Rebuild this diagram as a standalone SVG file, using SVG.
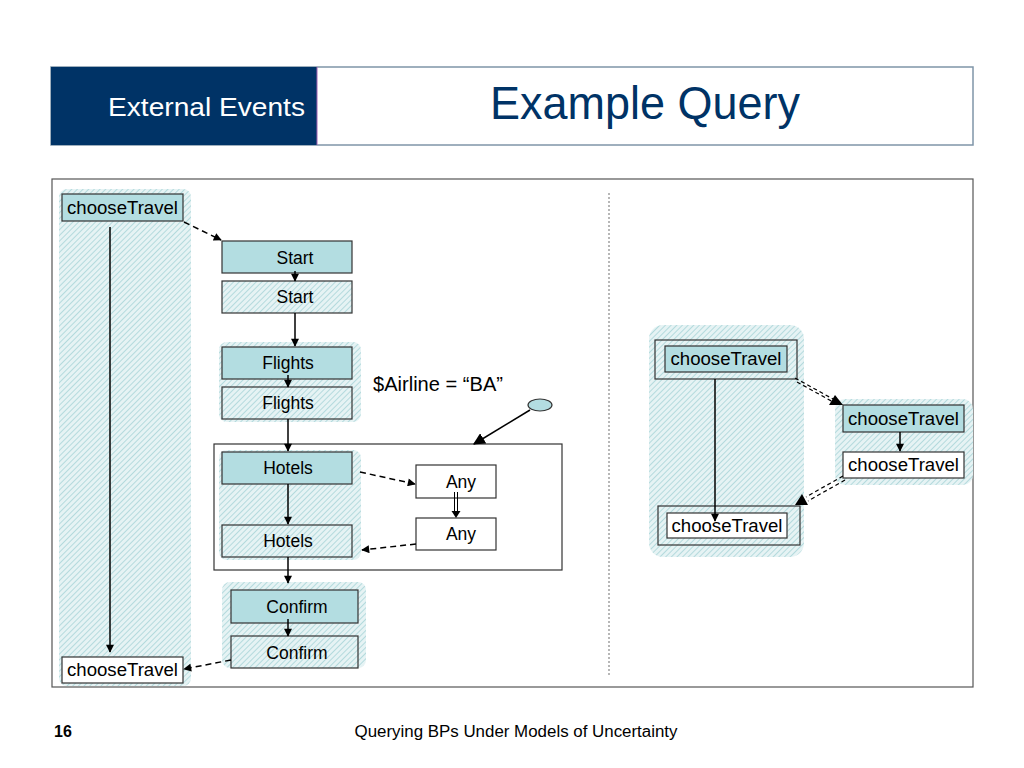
<svg xmlns="http://www.w3.org/2000/svg" width="1024" height="768" viewBox="0 0 1024 768">
<defs>
<pattern id="hatch" width="4" height="4" patternUnits="userSpaceOnUse" patternTransform="rotate(45)">
<rect width="4" height="4" fill="#e6f3f4"/>
<line x1="0" y1="0" x2="0" y2="4" stroke="#a8d4d8" stroke-width="1.6"/>
</pattern>
<marker id="ah" viewBox="0 0 10 10" refX="9" refY="5" markerWidth="9" markerHeight="8" orient="auto-start-reverse" markerUnits="userSpaceOnUse">
<path d="M0,0 L10,5 L0,10 z" fill="#000"/>
</marker>
<marker id="ahb" viewBox="0 0 10 10" refX="9" refY="5" markerWidth="12" markerHeight="12" orient="auto" markerUnits="userSpaceOnUse">
<path d="M0,0 L10,5 L0,10 z" fill="#000"/>
</marker>
</defs>
<style>
.t{font-family:"Liberation Sans",Arial,sans-serif;fill:#000}
.lbl{font-size:17.5px;text-anchor:middle}
.fill{fill:#b3dde1;stroke:#333;stroke-width:1.2}
.wh{fill:#fff;stroke:#333;stroke-width:1.2}
.hb{fill:url(#hatch);stroke:#333;stroke-width:1.2}
.reg{fill:url(#hatch);stroke:none}
.c{stroke:#000;stroke-width:1.5;fill:none}
.d{stroke:#000;stroke-width:1.5;fill:none;stroke-dasharray:6,4}
</style>
<rect width="1024" height="768" fill="#fff"/>
<g id="header">
<rect x="51" y="67" width="922" height="78" fill="#fff" stroke="#7f95a8" stroke-width="1.5"/>
<rect x="51" y="67" width="266" height="78" fill="#003366"/>
<line x1="317" y1="67" x2="317" y2="145" stroke="#a060b0" stroke-width="1"/>
<text x="305" y="116" class="t" style="fill:#fff;font-size:26px;text-anchor:end" textLength="197" lengthAdjust="spacingAndGlyphs">External Events</text>
<text x="645" y="119" class="t" style="fill:#003366;font-size:46px;text-anchor:middle" textLength="310" lengthAdjust="spacingAndGlyphs">Example Query</text>
</g>
<g id="frame">
<rect x="52" y="179" width="921" height="508" fill="none" stroke="#555" stroke-width="1.2"/>
<line x1="609" y1="193" x2="609" y2="677" stroke="#888" stroke-width="1.2" stroke-dasharray="2,2"/>
</g>
<g id="regions">
<rect x="59" y="189" width="132" height="497" rx="8" class="reg"/>
<rect x="219" y="342" width="142" height="80" rx="8" class="reg"/>
<rect x="219" y="450" width="142" height="110" rx="8" class="reg"/>
<rect x="222" y="582" width="144" height="86" rx="8" class="reg"/>
<rect x="649" y="325" width="155" height="232" rx="14" class="reg"/>
<rect x="835" y="399" width="138" height="86" rx="10" class="reg"/>
</g>
<g id="n-ct-top"><rect x="62" y="194" width="121" height="27" class="fill"/><text x="122.5" y="214" class="t lbl" textLength="111" lengthAdjust="spacingAndGlyphs">chooseTravel</text></g>
<g id="n-ct-bot"><rect x="62" y="657" width="121" height="26" class="wh"/><text x="122.5" y="676" class="t lbl" textLength="111" lengthAdjust="spacingAndGlyphs">chooseTravel</text></g>
<g id="n-start1"><rect x="222" y="241" width="130" height="32" class="fill"/><text x="295" y="264" class="t lbl">Start</text></g>
<g id="n-start2"><rect x="222" y="281" width="130" height="32" class="hb"/><text x="295" y="303" class="t lbl">Start</text></g>
<g id="n-flights1"><rect x="222" y="347" width="130" height="32" class="fill"/><text x="288" y="369" class="t lbl">Flights</text></g>
<g id="n-flights2"><rect x="222" y="387" width="130" height="32" class="hb"/><text x="288" y="409" class="t lbl">Flights</text></g>
<g id="cond"><text x="373" y="391" class="t" style="font-size:20px" textLength="130" lengthAdjust="spacingAndGlyphs">$Airline = “BA”</text></g>
<g id="n-event"><ellipse cx="540" cy="405" rx="12" ry="6" fill="#b3dde1" stroke="#333" stroke-width="1.2"/></g>
<g id="n-box"><rect x="214" y="444" width="348" height="126" fill="none" stroke="#333" stroke-width="1.2"/></g>
<g id="n-hotels1"><rect x="222" y="452" width="130" height="32" class="fill"/><text x="288" y="474" class="t lbl">Hotels</text></g>
<g id="n-hotels2"><rect x="222" y="525" width="130" height="32" class="hb"/><text x="288" y="547" class="t lbl">Hotels</text></g>
<g id="n-any1"><rect x="416" y="465" width="80" height="33" class="wh"/><text x="461" y="488" class="t lbl">Any</text></g>
<g id="n-any2"><rect x="416" y="518" width="80" height="32" class="wh"/><text x="461" y="540" class="t lbl">Any</text></g>
<g id="n-confirm1"><rect x="231" y="590" width="127" height="33" class="fill"/><text x="297" y="613" class="t lbl">Confirm</text></g>
<g id="n-confirm2"><rect x="231" y="636" width="127" height="32" class="hb"/><text x="297" y="659" class="t lbl">Confirm</text></g>
<g id="n-r-top"><rect x="655" y="340" width="142" height="39" fill="none" stroke="#333" stroke-width="1.2"/><rect x="665" y="346" width="122" height="26" class="fill"/><text x="726" y="365" class="t lbl" textLength="111" lengthAdjust="spacingAndGlyphs">chooseTravel</text></g>
<g id="n-r-bot"><rect x="658" y="506" width="142" height="39" fill="none" stroke="#333" stroke-width="1.2"/><rect x="667" y="513" width="120" height="25" class="wh"/><text x="727" y="532" class="t lbl" textLength="111" lengthAdjust="spacingAndGlyphs">chooseTravel</text></g>
<g id="n-r-mid1"><rect x="843" y="405" width="121" height="27" class="fill"/><text x="903.5" y="425" class="t lbl" textLength="111" lengthAdjust="spacingAndGlyphs">chooseTravel</text></g>
<g id="n-r-mid2"><rect x="843" y="452" width="121" height="26" class="wh"/><text x="903.5" y="471" class="t lbl" textLength="111" lengthAdjust="spacingAndGlyphs">chooseTravel</text></g>
<g id="connectors">
<line x1="110" y1="227" x2="110" y2="652" class="c" marker-end="url(#ah)"/>
<line x1="184" y1="222" x2="221" y2="240" class="d" marker-end="url(#ah)"/>
<line x1="295" y1="271" x2="295" y2="281" class="c" marker-end="url(#ah)"/>
<line x1="295" y1="313" x2="295" y2="346" class="c" marker-end="url(#ah)"/>
<line x1="288" y1="375" x2="288" y2="387" class="c" marker-end="url(#ah)"/>
<line x1="288" y1="419" x2="288" y2="451" class="c" marker-end="url(#ah)"/>
<line x1="530" y1="410" x2="474" y2="444" class="c" marker-end="url(#ahb)"/>
<line x1="288" y1="484" x2="288" y2="524" class="c" marker-end="url(#ah)"/>
<line x1="360" y1="472" x2="415" y2="484" class="d" marker-end="url(#ah)"/>
<line x1="454.5" y1="492" x2="454.5" y2="512" stroke="#000" stroke-width="1"/>
<line x1="457.5" y1="492" x2="457.5" y2="512" stroke="#000" stroke-width="1"/>
<path d="M451.5,511 L460.5,511 L456,518 z" fill="#000"/>
<line x1="416" y1="544" x2="362" y2="550" class="d" marker-end="url(#ah)"/>
<line x1="288" y1="557" x2="288" y2="583" class="c" marker-end="url(#ah)"/>
<line x1="288" y1="619" x2="288" y2="636" class="c" marker-end="url(#ah)"/>
<line x1="231" y1="660" x2="184" y2="669" class="d" marker-end="url(#ah)"/>
<line x1="715" y1="379" x2="715" y2="521" class="c" marker-end="url(#ah)"/>
<line x1="900" y1="432" x2="900" y2="451" class="c" marker-end="url(#ah)"/>
<g stroke="#000" stroke-width="1.2" stroke-dasharray="4,3" fill="none">
<line x1="795" y1="378" x2="833" y2="399"/>
<line x1="797" y1="382" x2="835" y2="403"/>
<line x1="843" y1="476" x2="806" y2="497"/>
<line x1="845" y1="480" x2="808" y2="501"/>
</g>
<path d="M843,405 L829,405 L835,395 z" fill="#000"/>
<path d="M795,505 L802,494 L808,505 z" fill="#000"/>
</g>
<g id="footer">
<text x="54" y="737" class="t" style="font-size:16px;font-weight:bold">16</text>
<text x="516" y="737" class="t" style="font-size:16px;text-anchor:middle" textLength="323" lengthAdjust="spacingAndGlyphs">Querying BPs Under Models of Uncertainty</text>
</g>
</svg>
